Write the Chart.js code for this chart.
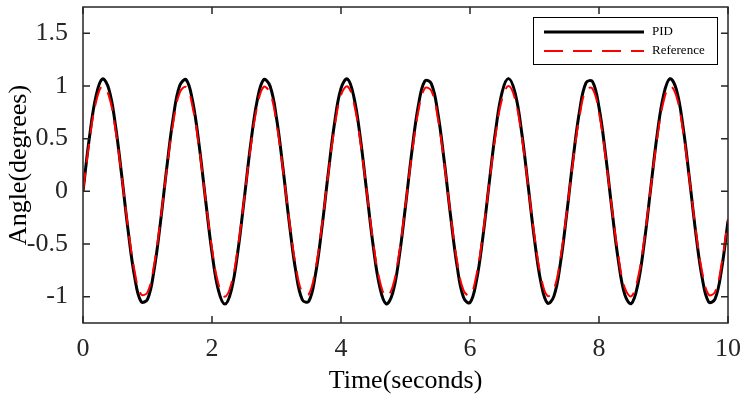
<!DOCTYPE html>
<html>
<head>
<meta charset="utf-8">
<script src="https://cdn.jsdelivr.net/npm/chart.js@4.4.1/dist/chart.umd.min.js"></script>
<style>
  html, body { margin: 0; padding: 0; background: #fff; }
  #wrap { width: 746px; height: 397px; }
</style>
</head>
<body>
<div id="wrap"><canvas id="angleChart"></canvas></div>
<script>
// time samples (s)
const timeSec = [
  0, 0.1, 0.2, 0.3, 0.4, 0.5, 0.6, 0.7, 0.8, 0.9,
  1, 1.1, 1.2, 1.3, 1.4, 1.5, 1.6, 1.7, 1.8, 1.9,
  2, 2.1, 2.2, 2.3, 2.4, 2.5, 2.6, 2.7, 2.8, 2.9,
  3, 3.1, 3.2, 3.3, 3.4, 3.5, 3.6, 3.7, 3.8, 3.9,
  4, 4.1, 4.2, 4.3, 4.4, 4.5, 4.6, 4.7, 4.8, 4.9,
  5, 5.1, 5.2, 5.3, 5.4, 5.5, 5.6, 5.7, 5.8, 5.9,
  6, 6.1, 6.2, 6.3, 6.4, 6.5, 6.6, 6.7, 6.8, 6.9,
  7, 7.1, 7.2, 7.3, 7.4, 7.5, 7.6, 7.7, 7.8, 7.9,
  8, 8.1, 8.2, 8.3, 8.4, 8.5, 8.6, 8.7, 8.8, 8.9,
  9, 9.1, 9.2, 9.3, 9.4, 9.5, 9.6, 9.7, 9.8, 9.9,
  10
];

// PID output angle (degrees)
const pidAngle = [
  0, 0.513, 0.900, 1.067, 0.973, 0.640, 0.151, -0.375, -0.810, -1.046,
  -1.026, -0.755, -0.299, 0.230, 0.703, 1.004, 1.059, 0.854, 0.441, -0.080,
  -0.582, -0.941, -1.070, -0.937, -0.574, -0.071, 0.450, 0.860, 1.060, 1.000,
  0.696, 0.221, -0.308, -0.762, -1.029, -1.045, -0.804, -0.366, 0.160, 0.648,
  0.977, 1.067, 0.895, 0.505, -0.010, -0.521, -0.905, -1.068, -0.969, -0.633,
  -0.142, 0.384, 0.816, 1.048, 1.023, 0.749, 0.290, -0.239, -0.710, -1.007,
  -1.057, -0.849, -0.432, 0.090, 0.590, 0.946, 1.070, 0.932, 0.566, 0.061,
  -0.458, -0.866, -1.061, -0.997, -0.689, -0.212, 0.317, 0.768, 1.031, 1.042,
  0.797, 0.358, -0.170, -0.656, -0.981, -1.066, -0.890, -0.496, 0.019, 0.530,
  0.910, 1.069, 0.965, 0.625, 0.132, -0.393, -0.822, -1.050, -1.021, -0.741,
  -0.281
];

// reference angle (degrees)
const refAngle = [
  0, 0.479, 0.842, 0.998, 0.909, 0.599, 0.141, -0.351, -0.757, -0.978,
  -0.959, -0.706, -0.279, 0.215, 0.657, 0.938, 0.989, 0.799, 0.412, -0.075,
  -0.544, -0.880, -1.000, -0.876, -0.537, -0.066, 0.420, 0.804, 0.991, 0.935,
  0.650, 0.207, -0.288, -0.712, -0.961, -0.977, -0.751, -0.343, 0.150, 0.606,
  0.913, 0.997, 0.837, 0.472, -0.009, -0.487, -0.846, -0.998, -0.906, -0.591,
  -0.132, 0.359, 0.763, 0.979, 0.956, 0.700, 0.271, -0.224, -0.664, -0.941,
  -0.988, -0.793, -0.404, 0.084, 0.551, 0.884, 1.000, 0.871, 0.529, 0.057,
  -0.428, -0.809, -0.992, -0.932, -0.644, -0.198, 0.296, 0.718, 0.964, 0.974,
  0.745, 0.335, -0.159, -0.614, -0.917, -0.996, -0.832, -0.464, 0.018, 0.495,
  0.851, 0.999, 0.902, 0.584, 0.124, -0.368, -0.768, -0.981, -0.954, -0.692,
  -0.262
];

const xTicks = [0, 2, 4, 6, 8, 10];
const yTicks = [-1, -0.5, 0, 0.5, 1, 1.5];

const AXIS_COLOR = '#262626';
const SERIF = "'Liberation Serif', 'Times New Roman', serif";

// MATLAB style box with inward ticks on all four sides
const boxTicks = {
  id: 'boxTicks',
  afterDatasetsDraw(chart) {
    const { ctx, chartArea: a, scales: { x, y } } = chart;
    const len = 7;
    ctx.save();
    ctx.strokeStyle = AXIS_COLOR;
    ctx.lineWidth = 1.5;
    ctx.strokeRect(a.left, a.top, a.right - a.left, a.bottom - a.top);
    ctx.beginPath();
    xTicks.forEach(v => {
      const px = x.getPixelForValue(v);
      ctx.moveTo(px, a.bottom); ctx.lineTo(px, a.bottom - len);
      ctx.moveTo(px, a.top); ctx.lineTo(px, a.top + len);
    });
    yTicks.forEach(v => {
      const py = y.getPixelForValue(v);
      ctx.moveTo(a.left, py); ctx.lineTo(a.left + len, py);
      ctx.moveTo(a.right, py); ctx.lineTo(a.right - len, py);
    });
    ctx.stroke();
    ctx.restore();
  }
};

// legend box inside the top right corner
const insideLegend = {
  id: 'insideLegend',
  afterDraw(chart) {
    const { ctx, chartArea: a } = chart;
    const w = 184, h = 47;
    const left = a.right - 11 - w, top = a.top + 10;
    ctx.save();
    ctx.fillStyle = '#fff';
    ctx.fillRect(left, top, w, h);
    ctx.strokeStyle = '#000';
    ctx.lineWidth = 1;
    ctx.strokeRect(left + 0.5, top + 0.5, w, h);
    ctx.font = '13px ' + SERIF;
    ctx.textBaseline = 'middle';
    chart.data.datasets.forEach((ds, i) => {
      const yy = top + 15 + i * 19;
      ctx.beginPath();
      ctx.strokeStyle = ds.borderColor;
      ctx.lineWidth = ds.borderWidth;
      ctx.setLineDash(ds.borderDash || []);
      ctx.moveTo(left + 11, yy);
      ctx.lineTo(left + 111, yy);
      ctx.stroke();
      ctx.setLineDash([]);
      ctx.fillStyle = '#000';
      ctx.fillText(ds.label, left + 119, yy);
    });
    ctx.restore();
  }
};

const ctx = document.getElementById('angleChart');
new Chart(ctx, {
  type: 'line',
  data: {
    datasets: [
      {
        label: 'PID',
        data: timeSec.map((t, i) => ({ x: t, y: pidAngle[i] })),
        borderColor: '#000000',
        borderWidth: 3,
        order: 1
      },
      {
        label: 'Reference',
        data: timeSec.map((t, i) => ({ x: t, y: refAngle[i] })),
        borderColor: '#ff0000',
        borderWidth: 2,
        borderDash: [19, 10],
        order: 0
      }
    ]
  },
  options: {
    responsive: true,
    maintainAspectRatio: false,
    animation: false,
    devicePixelRatio: 1,
    elements: {
      point: { radius: 0 },
      line: { tension: 0.4, fill: false }
    },
    layout: { padding: { left: 0, right: 18, top: 7, bottom: 0 } },
    plugins: {
      legend: { display: false },
      tooltip: { enabled: false }
    },
    scales: {
      x: {
        type: 'linear',
        min: 0,
        max: 10,
        afterBuildTicks: s => { s.ticks = xTicks.map(v => ({ value: v })); },
        afterFit: s => { s.height = 74; s.paddingLeft = 0; s.paddingRight = 0; },
        grid: { display: false },
        border: { display: false },
        ticks: {
          color: AXIS_COLOR,
          padding: 3,
          maxRotation: 0,
          font: { family: SERIF, size: 26 },
          callback: v => String(v)
        },
        title: {
          display: true,
          text: 'Time(seconds)',
          color: '#000',
          font: { family: SERIF, size: 26 },
          padding: { top: 0, bottom: 0 }
        }
      },
      y: {
        type: 'linear',
        min: -1.25,
        max: 1.75,
        afterBuildTicks: s => { s.ticks = yTicks.map(v => ({ value: v })); },
        afterFit: s => { s.width = 83; s.paddingTop = 0; s.paddingBottom = 0; },
        grid: { display: false },
        border: { display: false },
        ticks: {
          color: AXIS_COLOR,
          padding: 7,
          font: { family: SERIF, size: 26 },
          callback: v => String(v)
        },
        title: {
          display: true,
          text: 'Angle(degrees)',
          color: '#000',
          font: { family: SERIF, size: 26 },
          padding: { top: 4, bottom: 0 }
        }
      }
    }
  },
  plugins: [boxTicks, insideLegend]
});
</script>
</body>
</html>
